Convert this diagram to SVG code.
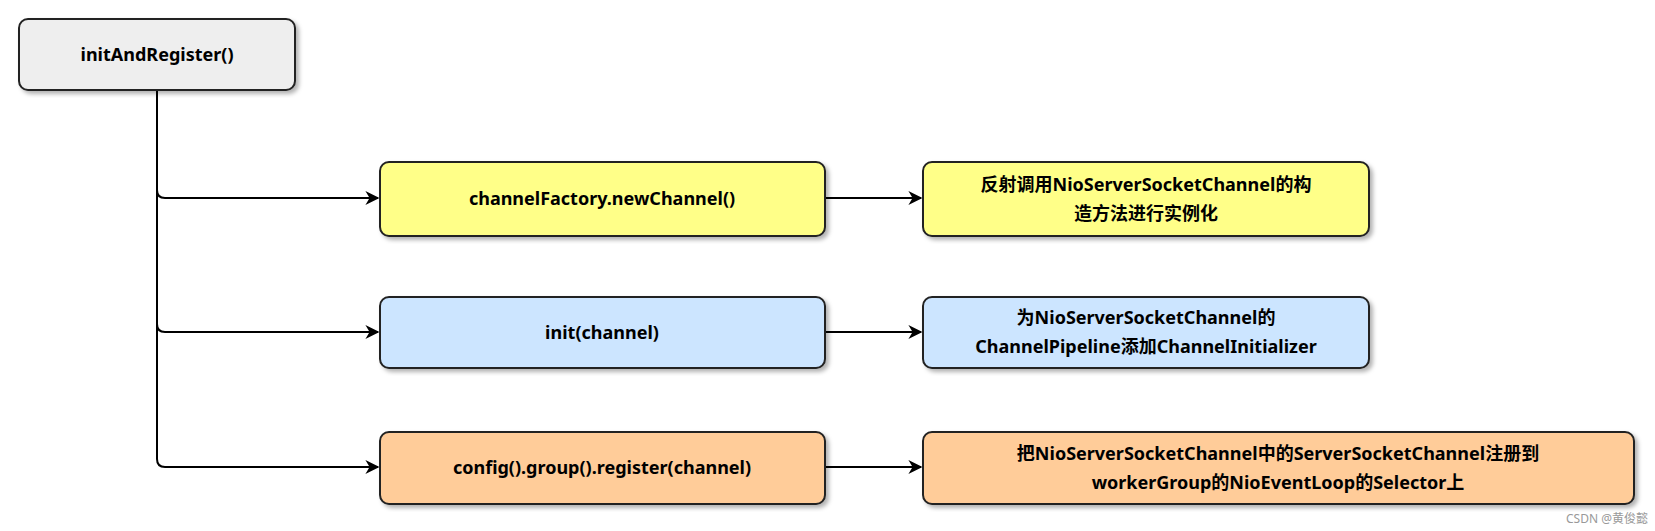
<svg xmlns="http://www.w3.org/2000/svg" width="1655" height="531" viewBox="0 0 1655 531">
<style>
.b{stroke:#222;stroke-width:2}
.t{font-family:"Noto Sans","Noto Sans CJK SC",sans-serif;font-size:18px;font-weight:bold;fill:#000;text-anchor:middle}
.c{fill:none;stroke:#000;stroke-width:2}
</style>
<defs>
<marker id="a" viewBox="0 0 10 10" refX="9" refY="5" markerWidth="7" markerHeight="7" orient="auto"><path d="M0,0L10,5L0,10L3,5z" fill="#000"/></marker>
<filter id="s"><feDropShadow dx="3" dy="3" stdDeviation="2" flood-color="#000" flood-opacity="0.3"/></filter>
</defs>
<rect width="1655" height="531" fill="#fff"/>
<g id="connectors">
<path class="c" d="M157,90V190Q157,198 165,198H378" marker-end="url(#a)"/>
<path class="c" d="M157,190V324Q157,332 165,332H378" marker-end="url(#a)"/>
<path class="c" d="M157,324V459Q157,467 165,467H378" marker-end="url(#a)"/>
<path class="c" d="M825,198H921" marker-end="url(#a)"/>
<path class="c" d="M825,332H921" marker-end="url(#a)"/>
<path class="c" d="M825,467H921" marker-end="url(#a)"/>
</g>
<g id="n0"><rect class="b" x="19" y="19" width="276" height="71" rx="9" fill="#eeeeee" filter="url(#s)"/><text class="t" x="157" y="61">initAndRegister()</text></g>
<g id="n1"><rect class="b" x="380" y="162" width="445" height="74" rx="9" fill="#ffff88" filter="url(#s)"/><text class="t" x="602" y="205">channelFactory.newChannel()</text></g>
<g id="n2"><rect class="b" x="923" y="162" width="446" height="74" rx="9" fill="#ffff88" filter="url(#s)"/><text class="t" x="1146" y="191">反射调用NioServerSocketChannel的构</text><text class="t" x="1146" y="220">造方法进行实例化</text></g>
<g id="n3"><rect class="b" x="380" y="297" width="445" height="71" rx="9" fill="#cce5ff" filter="url(#s)"/><text class="t" x="602" y="339">init(channel)</text></g>
<g id="n4"><rect class="b" x="923" y="297" width="446" height="71" rx="9" fill="#cce5ff" filter="url(#s)"/><text class="t" x="1146" y="324">为NioServerSocketChannel的</text><text class="t" x="1146" y="353">ChannelPipeline添加ChannelInitializer</text></g>
<g id="n5"><rect class="b" x="380" y="432" width="445" height="72" rx="9" fill="#ffcc99" filter="url(#s)"/><text class="t" x="602" y="474">config().group().register(channel)</text></g>
<g id="n6"><rect class="b" x="923" y="432" width="711" height="72" rx="9" fill="#ffcc99" filter="url(#s)"/><text class="t" x="1278" y="460">把NioServerSocketChannel中的ServerSocketChannel注册到</text><text class="t" x="1278" y="489">workerGroup的NioEventLoop的Selector上</text></g>
<text x="1648" y="523" font-family="Noto Sans,Noto Sans CJK SC,sans-serif" font-size="12" fill="#999" text-anchor="end">CSDN @黄俊懿</text>
</svg>
